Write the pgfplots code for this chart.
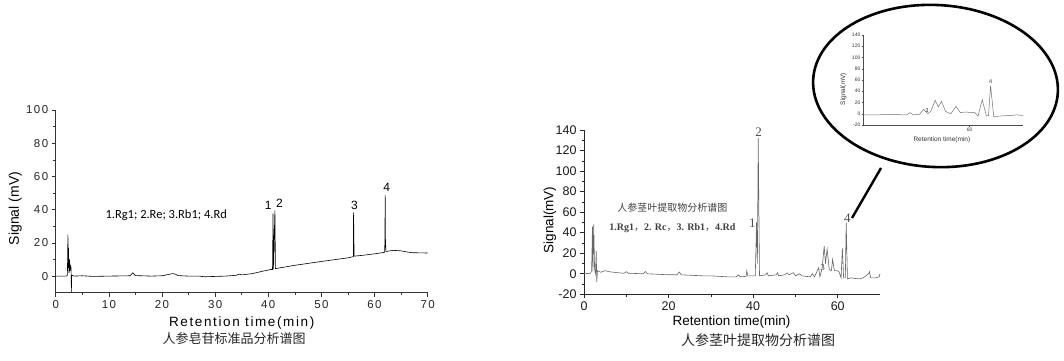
\documentclass[border=0pt]{standalone}
\usepackage{pgfplots}
\pgfplotsset{compat=1.18}
\usepackage{fontspec}
\setmainfont{Liberation Sans}
\newfontfamily\cjk{Noto Sans CJK SC}
\newfontfamily\serifr{Liberation Serif}
\newfontfamily\calib{Carlito}
\newfontfamily\spaced[LetterSpace=12]{Liberation Sans}
\pgfdeclareradialshading{ellshade}{\pgfpoint{0bp}{0bp}}{color(0bp)=(white); color(30bp)=(white); color(42bp)=(black!6); color(50bp)=(black!22)}
\begin{document}
\begin{tikzpicture}[x=1pt,y=1pt]
\draw[white, line width=0pt] (0,0) rectangle (1064,360);
%% ---------------- left chart ----------------
\begin{axis}[
  at={(55.7pt,67.3pt)}, anchor=south west,
  scale only axis, width=372pt, height=182.7pt,
  xmin=0, xmax=70, ymin=-10, ymax=100,
  axis x line*=bottom, axis y line*=left,
  axis line style={-, line width=0.7pt, black!80},
  xtick={0,10,...,70}, ytick={0,20,...,100},
  minor x tick num=1, minor y tick num=1,
  tick align=outside,
  major tick length=4pt, minor tick length=2.5pt,
  every tick/.style={black!80, line width=0.6pt},
  /pgf/number format/assume math mode=true,
  tick label style={font=\fontsize{11.5}{12}\selectfont\spaced, text=black!85},
  xlabel={Retention time(min)}, ylabel={Signal (mV)},
  xlabel style={at={(axis description cs:0.5,-0.164)}, anchor=center, font=\fontsize{13.5}{14}\selectfont\spaced},
  ylabel style={at={(axis description cs:-0.109,0.461)}, anchor=center, font=\fontsize{14}{15}\selectfont},
  clip=false,
]
\addplot[black, line width=0.6pt] coordinates {
(0,0) (2.0,0) (2.2,0.5) (2.3,25) (2.35,5) (2.4,17) (2.5,2) (2.6,10) (2.7,3) (2.8,6) (2.9,5) (2.95,-10) (3.0,0.5)
(3.5,0) (5,0.2) (7,-0.2) (10,0) (14,0.2) (14.5,2) (15,0.3) (18,0) (20,0.2) (22,1.5) (22.5,1.2) (23,0.3)
(25,0) (27,0) (28,-0.4) (30,-0.2) (32,0) (34,0.5) (34.5,1.2) (35,0.7) (37,1.5) (38.5,2.6) (39,3) (39.5,3.3)
(40.5,4) (40.8,4) (40.9,37.7) (41.0,4.2) (41.1,20) (41.25,39.6) (41.35,4.5) (45,6.5) (50,8.8) (55,11) (56,11.7)
(56.05,38.3) (56.1,25) (56.15,12) (58,12.6) (60,13.4) (61.9,14.3) (61.95,22) (62.0,48.7) (62.05,22) (62.15,14.8)
(63.5,15.5) (65,15.2) (66,14.6) (67,14.1) (70,13.9)
};
\node[font=\fontsize{12.5}{13}\selectfont\calib] at (axis cs:20.8,36.6) {1.Rg1; 2.Re; 3.Rb1; 4.Rd};
\node[font=\fontsize{12}{12}\selectfont] at (axis cs:40.0,42.7) {1};
\node[font=\fontsize{12}{12}\selectfont] at (axis cs:42.1,43.7) {2};
\node[font=\fontsize{12}{12}\selectfont] at (axis cs:56.2,42.7) {3};
\node[font=\fontsize{12}{12}\selectfont] at (axis cs:62.3,53.7) {4};
\end{axis}
\node[font=\fontsize{13}{14}\selectfont\cjk, text=black!85] at (234,21) {人参皂苷标准品分析谱图};
%% ---------------- right chart ----------------
\begin{axis}[
  at={(584pt,65.7pt)}, anchor=south west,
  scale only axis, width=296pt, height=164.3pt,
  xmin=0, xmax=70, ymin=-20, ymax=140,
  axis x line*=bottom, axis y line*=left,
  axis line style={-, line width=0.7pt, black!85},
  xtick={0,20,40,60}, ytick={-20,0,...,140},
  minor x tick num=1, minor y tick num=1,
  tick align=outside,
  major tick length=4pt, minor tick length=2.5pt,
  every tick/.style={black!85, line width=0.6pt},
  /pgf/number format/assume math mode=true,
  tick label style={font=\fontsize{12.5}{13}\selectfont, text=black!90},
  xlabel={Retention time(min)}, ylabel={Signal(mV)},
  xlabel style={at={(axis description cs:0.498,-0.169)}, anchor=center, font=\fontsize{13.5}{14}\selectfont},
  ylabel style={at={(axis description cs:-0.115,0.452)}, anchor=center, font=\fontsize{13.5}{14}\selectfont},
  clip=false,
]
\addplot[black!60, line width=0.6pt] coordinates {
(0,0) (1.5,0.5) (1.8,3) (2.0,46) (2.1,2) (2.3,48) (2.5,5) (2.7,0) (2.9,22) (3.0,-8) (3.2,3)
(4,1.5) (5,3) (6,2) (8,1) (9.5,0.5) (10,2) (10.5,0.5) (14,0) (14.5,2.2) (15,0) (20,-1) (22,-1) (22.5,1.8) (23,-1)
(28,-2) (30,-2) (34,-3) (36,-3) (36.5,-1) (37,-3) (38.3,-2.5) (38.5,3) (38.7,-2) (40.5,-2) (40.8,50) (41.0,10)
(41.2,132) (41.5,-2) (43,-1) (43.3,1) (43.6,-2) (45.5,-1) (45.8,1) (46,-2) (47.5,-1) (48,1) (48.5,-1) (49.5,1)
(50,-2) (51,0) (51.5,-2) (53.5,-3) (54,0) (54.5,-3) (55.5,6) (55.8,-3) (56.3,5) (56.8,27) (57.1,10) (57.5,24)
(58,4) (58.5,3) (58.8,14) (59.2,3) (59.8,3) (60.3,2) (60.8,-4) (61.1,25) (61.4,-4) (61.8,-4) (62.0,50) (62.3,-5)
(63,-4) (65,-5) (66,-4) (67.3,0) (67.5,2) (67.8,-4) (69,-4) (69.8,-3) (70,0)
};
\node[font=\fontsize{10}{11}\selectfont\cjk, text=black!75] at (axis cs:20.9,63.9) {人参茎叶提取物分析谱图};
\node[font=\fontsize{10}{11}\selectfont\serifr\bfseries, text=black!75] at (axis cs:20.9,44.5) {1.Rg1{\cjk\mdseries ，}2. Rc{\cjk\mdseries ，}3. Rb1{\cjk\mdseries ，}4.Rd};
\node[font=\fontsize{13}{13}\selectfont\serifr, text=black!70] at (axis cs:41.3,137.4) {2};
\node[font=\fontsize{13}{13}\selectfont\serifr, text=black!70] at (axis cs:39.8,49.4) {1};
\node[font=\fontsize{13}{13}\selectfont\serifr, text=black!70] at (axis cs:62.3,54.2) {4};
\node[font=\fontsize{9}{9}\selectfont\serifr, text=black!70] at (axis cs:56.4,6.5) {3};
\end{axis}
\node[font=\fontsize{14}{15}\selectfont\cjk, text=black!85] at (758,20) {人参茎叶提取物分析谱图};
%% ---------------- inset ----------------
\shade[shading=ellshade, rotate around={-3:(935.5,274)}] (935.5,274) ellipse [x radius=122.5, y radius=81];
\draw[line width=2.6pt, black, rotate around={-3:(935.5,274)}] (935.5,274) ellipse [x radius=122.5, y radius=81];
\draw[line width=2.4pt, black] (881,192) -- (852,142);
\begin{axis}[
  at={(863pt,235pt)}, anchor=south west,
  scale only axis, width=160pt, height=90pt,
  xmin=49.8, xmax=65.1, ymin=-20, ymax=140,
  axis x line*=bottom, axis y line*=left,
  axis line style={-, line width=0.4pt, black!70},
  xtick={60}, ytick={-20,0,...,140},
  tick align=outside,
  major tick length=1.5pt,
  every tick/.style={black!70, line width=0.4pt},
  /pgf/number format/assume math mode=true,
  tick label style={font=\fontsize{5}{5}\selectfont, text=black!80, inner sep=1pt},
  xlabel={Retention time(min)}, ylabel={Signal(mV)},
  xlabel style={at={(axis description cs:0.493,-0.17)}, anchor=center, font=\fontsize{6.5}{7}\selectfont, text=black!80},
  ylabel style={at={(axis description cs:-0.123,0.4)}, anchor=center, font=\fontsize{6.5}{7}\selectfont, text=black!80},
  clip=false,
]
\addplot[black!55, line width=0.5pt] coordinates {
(49.8,-2) (51,-2) (52,-1.5) (53,-1) (53.5,-2) (54,-2) (54.3,2) (54.6,-2) (55.2,-1) (55.6,8) (56,0) (56.3,5)
(56.7,24) (57,12) (57.3,22) (57.7,4) (58.2,0) (58.7,13) (59.1,2) (59.5,3) (60.5,2) (60.8,-4) (61.2,25) (61.6,-4)
(61.8,-3) (62,50) (62.3,-5) (63,-4) (64,-3) (64.5,-2) (65.1,-3)
};
\node[font=\fontsize{5.5}{6}\selectfont, text=black!80] at (axis cs:55.9,5.3) {3};
\node[font=\fontsize{5.5}{6}\selectfont, text=black!80] at (axis cs:62,57) {4};
\end{axis}
\end{tikzpicture}
\end{document}
